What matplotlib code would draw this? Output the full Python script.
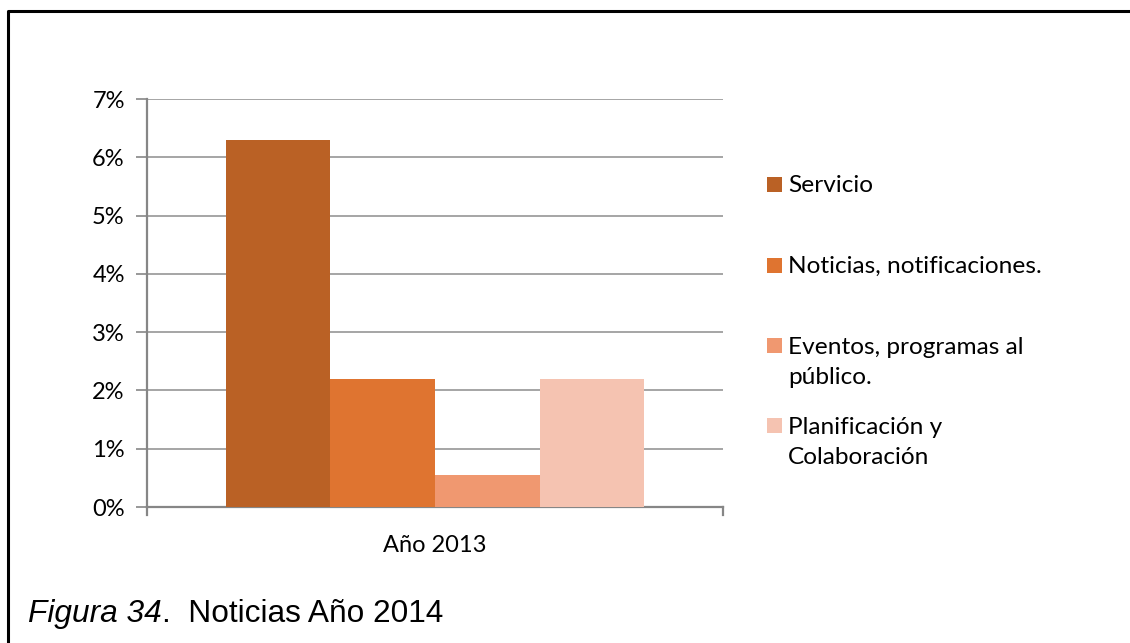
import matplotlib.pyplot as plt
from matplotlib.lines import Line2D
from matplotlib.patches import Rectangle
from matplotlib.ticker import FuncFormatter

# chart data
categoria = "Año 2013"
series = ["Servicio", "Noticias, notificaciones.", "Eventos, programas al\npúblico.", "Planificación y\nColaboración"]
valores = [6.3, 2.2, 0.55, 2.2]  # percent
colores = ["#BA6125", "#DF7430", "#F09870", "#F5C3B1"]
titulo_fig = "Figura 34"
titulo_txt = ".  Noticias Año 2014"

W, H = 1130, 643
fig = plt.figure(figsize=(W / 100, H / 100), dpi=100)
fig.patch.set_facecolor("white")

ax = fig.add_axes([147 / W, 1 - 507 / H, 576 / W, 408 / H])

grupo = 0.727
ancho = grupo / len(valores)
for i, (v, c) in enumerate(zip(valores, colores)):
    x = (i - (len(valores) - 1) / 2) * ancho
    ax.bar(x, v, width=ancho, color=c, zorder=3)

ax.set_xlim(-0.5, 0.5)
ax.set_ylim(0, 7)
ax.set_yticks(range(0, 8))
ax.yaxis.set_major_formatter(FuncFormatter(lambda v, p: f"{int(v)}%"))
ax.grid(axis="y", color="#969696", linewidth=1.2, zorder=0)

gris = "#868686"
for s in ["top", "right"]:
    ax.spines[s].set_visible(False)
for s in ["left", "bottom"]:
    ax.spines[s].set_color(gris)
    ax.spines[s].set_linewidth(1.6)
ax.tick_params(axis="y", length=8, width=1.2, color=gris, labelsize=17, pad=8)
ax.tick_params(axis="x", length=0, labelsize=17, pad=20)
for lab in ax.get_yticklabels():
    lab.set_fontfamily("Lato")

# x tick only at the two ends of the axis
ax.set_xticks([0])
ax.set_xticklabels([categoria], fontfamily="Lato")
for xe in (-0.5, 0.5):
    ax.plot([xe, xe], [0, -0.14], color=gris, linewidth=1.6, clip_on=False)

# legend drawn by hand so multi-line labels align to the first line
leg_base = [192, 273, 353, 433]  # baseline of first line, px from top
paso = 31  # px between wrapped lines
for nombre, c, yb in zip(series, colores, leg_base):
    yc = yb - 8
    fig.add_artist(Rectangle((767 / W, 1 - (yc + 7.5) / H), 15 / W, 15 / H,
                             transform=fig.transFigure, facecolor=c, edgecolor="none"))
    # matplotlib puts the baseline of the last line at y
    y_last = yb + paso * nombre.count("\n")
    fig.text(788 / W, 1 - y_last / H, nombre, fontsize=17.6, fontfamily="Lato",
             va="baseline", ha="left", linespacing=1.52)

# frame lines
fig.add_artist(Line2D([8 / W, 8 / W, 1.0], [0.0, 1 - 11 / H, 1 - 11 / H],
                      transform=fig.transFigure, color="black", linewidth=2.2))

# caption
t1 = fig.text(28 / W, 1 - 622 / H, titulo_fig, fontsize=22.8, fontstyle="italic",
              fontfamily="Liberation Sans", va="baseline")
fig.canvas.draw()
bb = t1.get_window_extent()
fig.text(bb.x1 / W, 1 - 622 / H, titulo_txt, fontsize=22.8,
         fontfamily="Liberation Sans", va="baseline")

fig.savefig("out.png", dpi=100)
